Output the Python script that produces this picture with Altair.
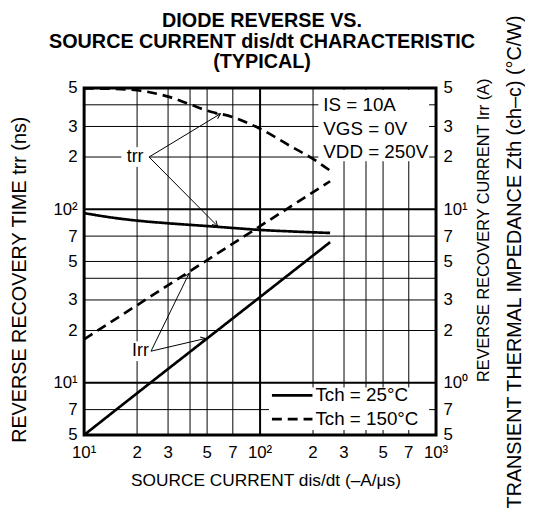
import math
import altair as alt
import pandas as pd

# ---------------- data ----------------
trr25_x = [10, 15, 20, 30, 50, 70, 100, 150, 250]
trr25_y = [95, 89, 86, 83, 80, 78, 76, 74.5, 73]            # ns
trr150_x = [10, 15, 20, 30, 40, 50, 70, 100, 150, 200, 250]
trr150_y = [497, 494, 485, 446, 402, 370, 340, 291, 230, 195, 167]  # ns
irr25_x = [10, 20, 50, 100, 200, 250]
irr25_y = [0.5, 0.87, 1.8, 3.12, 5.41, 6.46]                 # A
irr150_x = [10, 20, 40, 100, 250]
irr150_y = [1.78, 2.80, 4.40, 7.99, 14.5]                    # A

x_ticks = [10, 20, 30, 50, 70, 100, 200, 300, 500, 700, 1000]
x_tick_labels = ["10¹", "2", "3", "5", "7", "10²", "2", "3", "5", "7", "10³"]
y_ticks = [5, 7, 10, 20, 30, 50, 70, 100, 200, 300, 500]
y_left_labels = ["5", "7", "10¹", "2", "3", "5", "7", "10²", "2", "3", "5"]
y_right_labels = ["5", "7", "10⁰", "2", "3", "5", "7", "10¹", "2", "3", "5"]

grid_x_minor = [20, 30, 40, 50, 70, 200, 300, 400, 500, 700]
grid_x_major = [100]
grid_y_minor = [7, 20, 30, 40, 50, 70, 200, 300, 400]
grid_y_major = [10, 100]

IRR_TO_TRR = 10  # right axis (A) to left axis (ns) ratio

# annotation anchors (data units; Irr ones in A)
trr_label = (19.5, 200)
trr_arrow_start = (23.4, 200)
trr_arrow_ends = [(59.5, 355), (57.3, 80)]
irr_label = (20.9, 1.52)
irr_arrow_start = (24.0, 1.52)
irr_arrow_ends = [(39.5, 4.27), (49.0, 1.80)]

conditions = ["IS = 10A", "VGS = 0V", "VDD = 250V"]
legend_labels = ["Tch = 25°C", "Tch = 150°C"]
title_lines = ["DIODE REVERSE VS.", "SOURCE CURRENT dis/dt CHARACTERISTIC", "(TYPICAL)"]
x_title = "SOURCE CURRENT   dis/dt (–A/μs)"
y_left_title = "REVERSE RECOVERY TIME   trr (ns)"
y_right_title = "REVERSE RECOVERY CURRENT   Irr (A)"
y_right_title2 = "TRANSIENT THERMAL IMPEDANCE   Zth (ch–c) (°C/W)"

# ---------------- layout ----------------
W, H = 356, 351
FONT = "Liberation Sans"
LS = 17

xscale = alt.Scale(type="log", domain=[10, 1000], nice=False)
yscale = alt.Scale(type="log", domain=[5, 500], nice=False)


def label_expr(vals, labels):
    expr = "''"
    for v, l in reversed(list(zip(vals, labels))):
        expr = f"(abs(datum.value - {v}) < {v / 1000}) ? '{l}' : ({expr})"
    return expr


def px(x):
    return W * math.log10(x / 10) / 2


def py(y):
    return H * (1 - math.log10(y / 5) / 2)


common_axis = dict(title=None, grid=False, ticks=False, domain=False,
                   labelFont=FONT, labelFontSize=LS, labelColor="black",
                   labelFlush=False, labelOverlap=False)

y_axis_left = alt.Axis(values=y_ticks, labelExpr=label_expr(y_ticks, y_left_labels),
                       orient="left", labelPadding=7, **common_axis)
y_axis_right = alt.Axis(values=y_ticks, labelExpr=label_expr(y_ticks, y_right_labels),
                        orient="right", labelPadding=7, **common_axis)

# ---------------- series table ----------------
rows = []
for xs, ys, name, temp, f in [
    (trr25_x, trr25_y, "trr25", "25", 1),
    (trr150_x, trr150_y, "trr150", "150", 1),
    (irr25_x, irr25_y, "irr25", "25", IRR_TO_TRR),
    (irr150_x, irr150_y, "irr150", "150", IRR_TO_TRR),
]:
    for xv, yv in zip(xs, ys):
        rows.append({"series": name, "temp": temp, "x": xv, "y": yv * f})
curves_df = pd.DataFrame(rows)

# ---------------- layers ----------------
vgrid_minor = alt.Chart(pd.DataFrame({"v": grid_x_minor})).mark_rule(
    color="black", strokeWidth=1).encode(x=alt.X("v:Q", scale=xscale, axis=None))
vgrid_major = alt.Chart(pd.DataFrame({"v": grid_x_major})).mark_rule(
    color="black", strokeWidth=2).encode(x=alt.X("v:Q", scale=xscale, axis=None))
hgrid_minor = alt.Chart(pd.DataFrame({"v": grid_y_minor})).mark_rule(
    color="black", strokeWidth=1).encode(y=alt.Y("v:Q", scale=yscale, axis=y_axis_right))
hgrid_major = alt.Chart(pd.DataFrame({"v": grid_y_major})).mark_rule(
    color="black", strokeWidth=2).encode(y=alt.Y("v:Q", scale=yscale, axis=None))

# x tick labels, placed through the x scale
xlab = alt.Chart(pd.DataFrame({"v": x_ticks, "t": x_tick_labels})).mark_text(
    font=FONT, fontSize=LS, color="black", align="center", baseline="middle").encode(
    x=alt.X("v:Q", scale=xscale, axis=None), y=alt.value(H + 18), text="t:N")

one = pd.DataFrame({"k": [0]})
cond_box = alt.Chart(one).mark_rect(color="white").encode(
    x=alt.value(237), x2=alt.value(349), y=alt.value(2), y2=alt.value(74))
legend_box = alt.Chart(one).mark_rect(color="white").encode(
    x=alt.value(187), x2=alt.value(349), y=alt.value(303), y2=alt.value(346))

lab_df = pd.DataFrame({
    "x": [trr_label[0], irr_label[0]],
    "y": [trr_label[1], irr_label[1] * IRR_TO_TRR],
    "t": ["trr", "Irr"],
})
lab_bg = alt.Chart(lab_df).mark_point(
    shape="M-1.4,-1L1.4,-1L1.4,1L-1.4,1Z", filled=True, color="white",
    opacity=1, size=400, strokeWidth=0).encode(
    x=alt.X("x:Q", scale=xscale, axis=None), y=alt.Y("y:Q", scale=yscale, axis=None))

curves = alt.Chart(curves_df).mark_line(color="black", strokeWidth=2.7,
                                        interpolate="monotone").encode(
    x=alt.X("x:Q", scale=xscale, axis=None),
    y=alt.Y("y:Q", scale=yscale, axis=y_axis_left),
    detail="series:N",
    strokeDash=alt.StrokeDash("temp:N", scale=alt.Scale(domain=["25", "150"],
                                                        range=[[1, 0], [10, 6]]),
                              legend=None),
)

arr_rows = []
for (sx, sy), ends, f in [(trr_arrow_start, trr_arrow_ends, 1),
                          (irr_arrow_start, irr_arrow_ends, IRR_TO_TRR)]:
    for ex, ey in ends:
        ang = math.degrees(math.atan2(py(ey * f) - py(sy * f), px(ex) - px(sx))) % 360
        arr_rows.append({"x": sx, "y": sy * f, "x2": ex, "y2": ey * f, "ang": ang})
arr_df = pd.DataFrame(arr_rows)

arrows = alt.Chart(arr_df).mark_rule(color="black", strokeWidth=1).encode(
    x=alt.X("x:Q", scale=xscale, axis=None), y=alt.Y("y:Q", scale=yscale, axis=None),
    x2="x2:Q", y2="y2:Q")
heads = alt.Chart(arr_df).mark_point(
    shape="M-1,-0.55L0,0L-1,0.55", filled=False, color="black", opacity=1,
    strokeWidth=1, size=100).encode(
    x=alt.X("x2:Q", scale=xscale, axis=None), y=alt.Y("y2:Q", scale=yscale, axis=None),
    angle=alt.Angle("ang:Q", scale=None))

lab_text = alt.Chart(lab_df).mark_text(font=FONT, fontSize=18, color="black",
                                       align="center", baseline="middle").encode(
    x=alt.X("x:Q", scale=xscale, axis=None), y=alt.Y("y:Q", scale=yscale, axis=None),
    text="t:N")

cond_df = pd.DataFrame({"t": conditions, "py": [17, 42, 65]})
cond_text = alt.Chart(cond_df).mark_text(font=FONT, fontSize=19, color="black",
                                         align="left", baseline="middle").encode(
    x=alt.value(242), y=alt.Y("py:Q", scale=None), text="t:N")

leg_df = pd.DataFrame({"t": legend_labels, "temp": ["25", "150"], "py": [311, 335]})
leg_lines = alt.Chart(leg_df).mark_rule(color="black", strokeWidth=2.7).encode(
    x=alt.value(190), x2=alt.value(231), y=alt.Y("py:Q", scale=None),
    strokeDash=alt.StrokeDash("temp:N", scale=alt.Scale(domain=["25", "150"],
                                                        range=[[1, 0], [10, 6]]),
                              legend=None))
leg_text = alt.Chart(leg_df).mark_text(font=FONT, fontSize=19, color="black",
                                       align="left", baseline="middle").encode(
    x=alt.value(234), y=alt.Y("py:Q", scale=None), text="t:N")

title_df = pd.DataFrame({"t": title_lines, "py": [-68, -46, -26]})
title_text = alt.Chart(title_df).mark_text(font=FONT, fontSize=20, fontWeight="bold",
                                           color="black", align="center",
                                           baseline="middle").encode(
    x=alt.value(180), y=alt.Y("py:Q", scale=None), text="t:N")

xt = alt.Chart(pd.DataFrame({"t": [x_title]})).mark_text(
    font=FONT, fontSize=17.5, color="black", align="center", baseline="middle").encode(
    x=alt.value(184), y=alt.value(398), text="t:N")
ylt = alt.Chart(pd.DataFrame({"t": [y_left_title]})).mark_text(
    font=FONT, fontSize=20, color="black", align="center", baseline="middle",
    angle=270).encode(x=alt.value(-65), y=alt.value(194), text="t:N")
yrt = alt.Chart(pd.DataFrame({"t": [y_right_title]})).mark_text(
    font=FONT, fontSize=16.5, color="black", align="center", baseline="middle",
    angle=270).encode(x=alt.value(405), y=alt.value(144), text="t:N")
yrt2 = alt.Chart(pd.DataFrame({"t": [y_right_title2]})).mark_text(
    font=FONT, fontSize=20, color="black", align="center", baseline="middle",
    angle=270).encode(x=alt.value(436), y=alt.value(176), text="t:N")

chart = alt.layer(
    vgrid_minor, vgrid_major, hgrid_minor, hgrid_major,
    cond_box, legend_box, lab_bg,
    curves, arrows, heads, lab_text, cond_text, leg_lines, leg_text,
    xlab, title_text, xt, ylt, yrt, yrt2,
).resolve_axis(y="independent").properties(
    width=W, height=H,
    autosize=alt.AutoSizeParams(type="none"),
    padding={"left": 77, "top": 78, "right": 90, "bottom": 73},
).configure_view(stroke="black", strokeWidth=3)

chart.save("out.html", embed_options={"renderer": "svg", "actions": False})
